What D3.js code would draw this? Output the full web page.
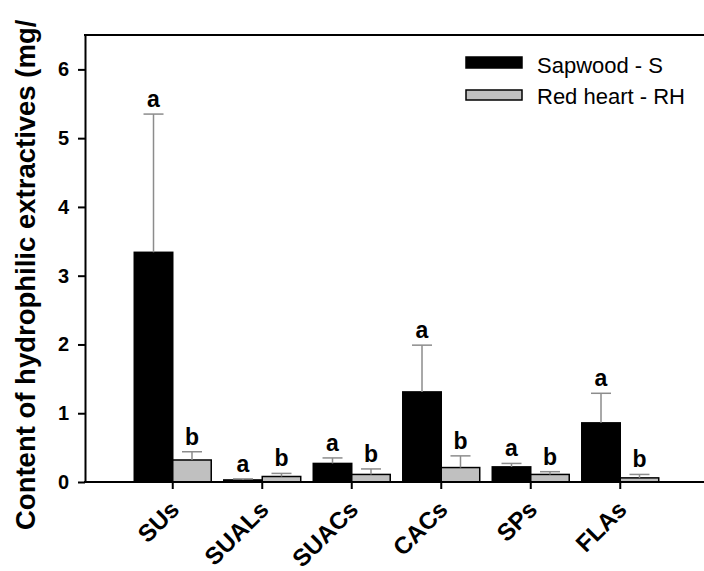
<!DOCTYPE html>
<html>
<head>
<meta charset="utf-8">
<script src="https://cdn.jsdelivr.net/npm/d3@7"></script>
<style>
    body { margin: 0; background: #fff; }
    svg { display: block; font-family: "Liberation Sans", Arial, sans-serif; }
</style>
</head>
<body>
<div id="chart"></div>
<script>
// Data
const categories = ["SUs", "SUALs", "SUACs", "CACs", "SPs", "FLAs"];
const sapwood = [3.34, 0.03, 0.27, 1.31, 0.22, 0.86];
const sapwoodErr = [2.01, 0.015, 0.08, 0.68, 0.05, 0.43];
const redHeart = [0.32, 0.08, 0.11, 0.21, 0.11, 0.06];
const redHeartErr = [0.12, 0.045, 0.08, 0.17, 0.04, 0.05];
const sapwoodLetters = ["a", "a", "a", "a", "a", "a"];
const redHeartLetters = ["b", "b", "b", "b", "b", "b"];
const seriesNames = ["Sapwood - S", "Red heart - RH"];
const yTicks = [0, 1, 2, 3, 4, 5, 6];

const W = 704, H = 571;
const plotLeft = 85, plotTop = 35, plotBottom = 482;

const svg = d3.select("#chart").append("svg")
    .attr("width", W)
    .attr("height", H);

// Scales
const y = d3.scaleLinear().domain([0, 6.5]).range([plotBottom, plotTop]);
const x = d3.scaleBand()
    .domain(categories)
    .range([128, 665])
    .paddingInner(0.14)
    .paddingOuter(0.07);
const xSub = d3.scaleBand().domain(["S", "RH"]).range([0, x.bandwidth()]);

// Build a flat table for the bars
const rows = [];
categories.forEach((c, i) => {
    rows.push({ cat: c, key: "S", value: sapwood[i], err: sapwoodErr[i], letter: sapwoodLetters[i] });
    rows.push({ cat: c, key: "RH", value: redHeart[i], err: redHeartErr[i], letter: redHeartLetters[i] });
});
const fill = { S: "#000000", RH: "#c0c0c0" };

// Bars
svg.selectAll(".bar")
    .data(rows)
    .enter()
    .append("rect")
    .attr("class", "bar")
    .attr("x", d => x(d.cat) + xSub(d.key))
    .attr("y", d => y(d.value))
    .attr("width", xSub.bandwidth())
    .attr("height", d => y(0) - y(d.value))
    .attr("fill", d => fill[d.key])
    .attr("stroke", "#000")
    .attr("stroke-width", 1.5);

// Error bars (upper only)
const errG = svg.append("g").attr("stroke", "#8c8c8c").attr("stroke-width", 1.5);
rows.forEach(d => {
    const cx = x(d.cat) + xSub(d.key) + xSub.bandwidth() / 2;
    errG.append("line")
        .attr("x1", cx).attr("x2", cx)
        .attr("y1", y(d.value)).attr("y2", y(d.value + d.err));
    errG.append("line")
        .attr("x1", cx - 10).attr("x2", cx + 10)
        .attr("y1", y(d.value + d.err)).attr("y2", y(d.value + d.err));
});

// Significance letters
svg.selectAll(".letter")
    .data(rows)
    .enter()
    .append("text")
    .attr("class", "letter")
    .attr("x", d => x(d.cat) + xSub(d.key) + xSub.bandwidth() / 2)
    .attr("y", d => y(d.value + d.err) - 7)
    .attr("text-anchor", "middle")
    .style("font-size", "23px")
    .style("font-weight", "bold")
    .text(d => d.letter);

// Y axis
const yAxis = svg.append("g")
    .attr("transform", `translate(${plotLeft},0)`)
    .call(d3.axisLeft(y).tickValues(yTicks).tickFormat(d3.format("d"))
        .tickSize(7).tickSizeOuter(0).tickPadding(9));
yAxis.select(".domain").attr("stroke-width", 2);
yAxis.selectAll(".tick line").attr("stroke-width", 2);
yAxis.selectAll(".tick text")
    .style("font-size", "20px")
    .style("font-weight", "bold")
    .style("font-family", "Liberation Sans, Arial, sans-serif")
    .attr("fill", "#000");

// X axis: ticks only, labels drawn rotated below
const xAxis = svg.append("g")
    .attr("transform", `translate(0,${plotBottom})`)
    .call(d3.axisBottom(x).tickSize(7).tickFormat(""));
xAxis.select(".domain").remove();
xAxis.selectAll(".tick line").attr("stroke-width", 2);

svg.selectAll(".x-label")
    .data(categories)
    .enter()
    .append("g")
    .attr("class", "x-label")
    .attr("transform", d => `translate(${x(d) + x.bandwidth() / 2 + 8},${plotBottom + 29}) rotate(-45)`)
    .append("text")
    .attr("text-anchor", "end")
    .style("font-size", "24px")
    .style("font-weight", "bold")
    .text(d => d);

// Frame lines: bottom and top
svg.append("line")
    .attr("x1", plotLeft - 1).attr("x2", W)
    .attr("y1", plotBottom).attr("y2", plotBottom)
    .attr("stroke", "#000").attr("stroke-width", 2);
svg.append("line")
    .attr("x1", plotLeft - 1).attr("x2", W)
    .attr("y1", plotTop).attr("y2", plotTop)
    .attr("stroke", "#000").attr("stroke-width", 2);

// Y axis title (cut at the top like the original)
svg.append("text")
    .attr("transform", "translate(35,530) rotate(-90)")
    .style("font-size", "27.5px")
    .style("font-weight", "bold")
    .text("Content of hydrophilic extractives (mg/");

// Legend
const legend = svg.append("g");
legend.append("rect")
    .attr("x", 466).attr("y", 57).attr("width", 56).attr("height", 11)
    .attr("fill", fill.S).attr("stroke", "#000").attr("stroke-width", 1.5);
legend.append("rect")
    .attr("x", 466).attr("y", 90).attr("width", 56).attr("height", 10)
    .attr("fill", fill.RH).attr("stroke", "#000").attr("stroke-width", 1.5);
legend.selectAll(".leg-text")
    .data(seriesNames)
    .enter()
    .append("text")
    .attr("class", "leg-text")
    .attr("x", 537)
    .attr("y", (d, i) => 73 + i * 31)
    .style("font-size", "22px")
    .text(d => d);
</script>
</body>
</html>
